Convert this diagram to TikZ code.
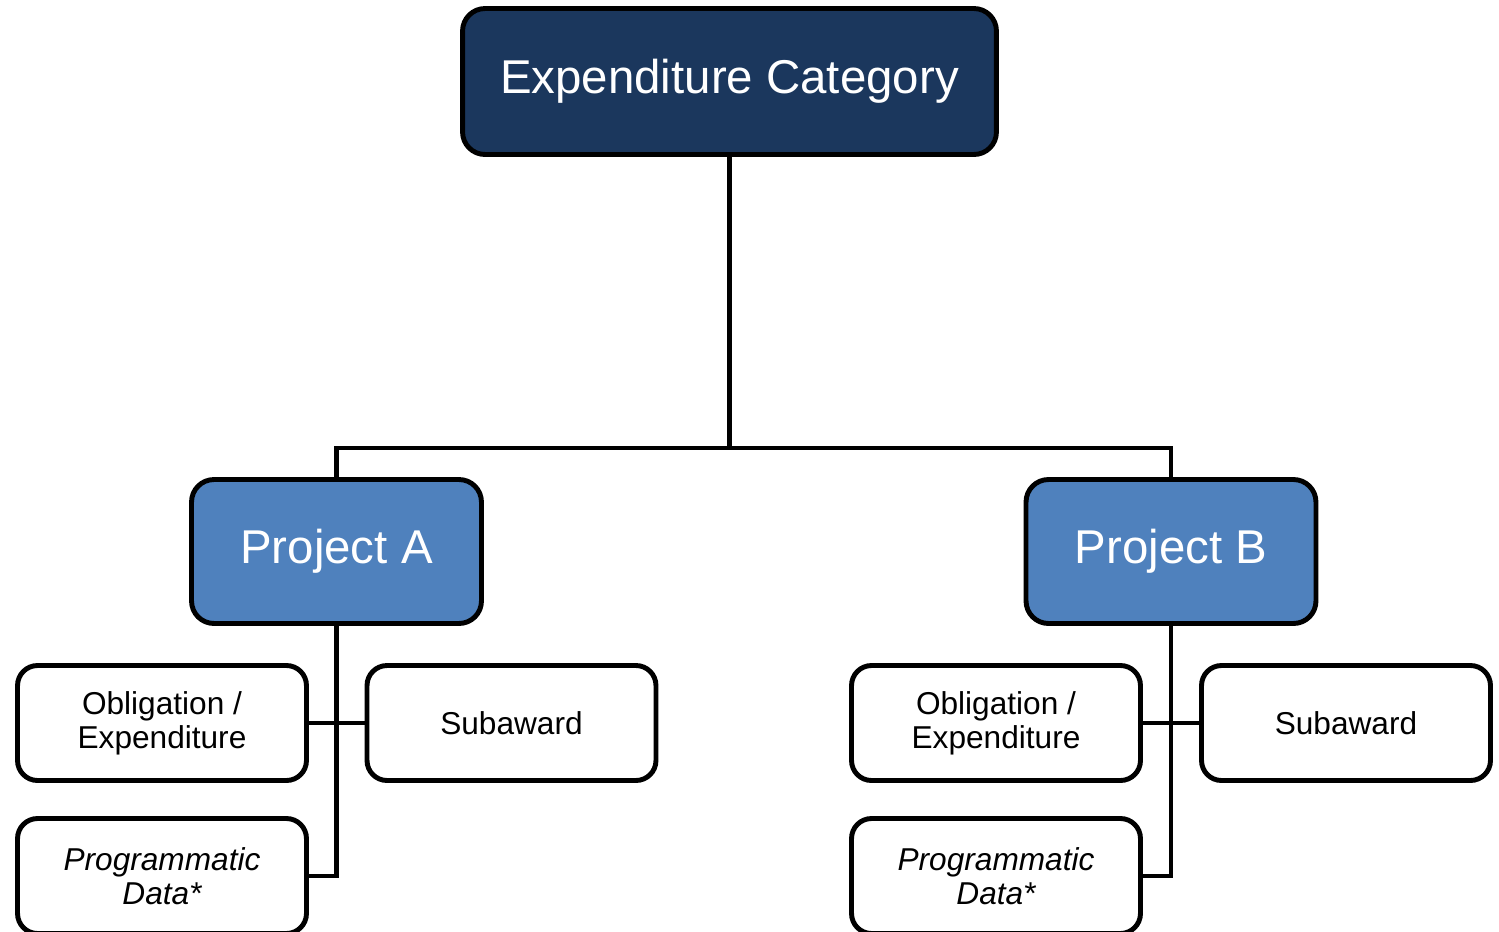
\documentclass[tikz,border=0pt]{standalone}
\usepackage{fontspec}
\setmainfont{Liberation Sans}
\usepackage{tikz}
\usetikzlibrary{positioning}
\usepackage{xcolor}

\definecolor{navy}{RGB}{27,55,93}
\definecolor{projblue}{RGB}{79,129,189}

\begin{document}
\begin{tikzpicture}[x=0.02cm, y=-0.02cm,
        every node/.style = {draw=black, line width=2.8pt, rounded corners=0.45cm, align=center},
        catbox/.style = {fill=navy, text=white, minimum width=10.68cm, minimum height=2.92cm, font=\fontsize{27}{30}\selectfont},
        projbox/.style = {fill=projblue, text=white, minimum width=5.8cm, minimum height=2.88cm, font=\fontsize{27}{30}\selectfont},
        itembox/.style = {fill=white, minimum width=5.78cm, minimum height=2.3cm, rounded corners=0.4cm, font=\fontsize{18}{19.5}\selectfont},
        link/.style = {line width=2.3pt}
        ]
        \useasboundingbox (0,0) rectangle (1499,931);
        \node[catbox] (cat) at (729.5,81.5) {Expenditure Category};
        \node[projbox] (pa) at (336.5,551.5) {Project A};
        \node[projbox] (pb) at (1171,551.5) {Project B};
        \node[itembox] (oba) at (162,723) {Obligation /\\Expenditure};
        \node[itembox] (suba) at (511.5,723) {Subaward};
        \node[itembox] (proga) at (162,876) {\itshape Programmatic\\\itshape Data*};
        \node[itembox] (obb) at (996,723) {Obligation /\\Expenditure};
        \node[itembox] (subb) at (1346,723) {Subaward};
        \node[itembox] (progb) at (996,876) {\itshape Programmatic\\\itshape Data*};
        \coordinate (split) at (729.5,448);
        \draw[link] (cat) -- (split) -| (pa);
        \draw[link] (split) -| (pb);
        \draw[link] (pa) |- (proga);
        \draw[link] (oba) -- (suba);
        \draw[link] (pb) |- (progb);
        \draw[link] (obb) -- (subb);
        \end{tikzpicture}
\end{document}
